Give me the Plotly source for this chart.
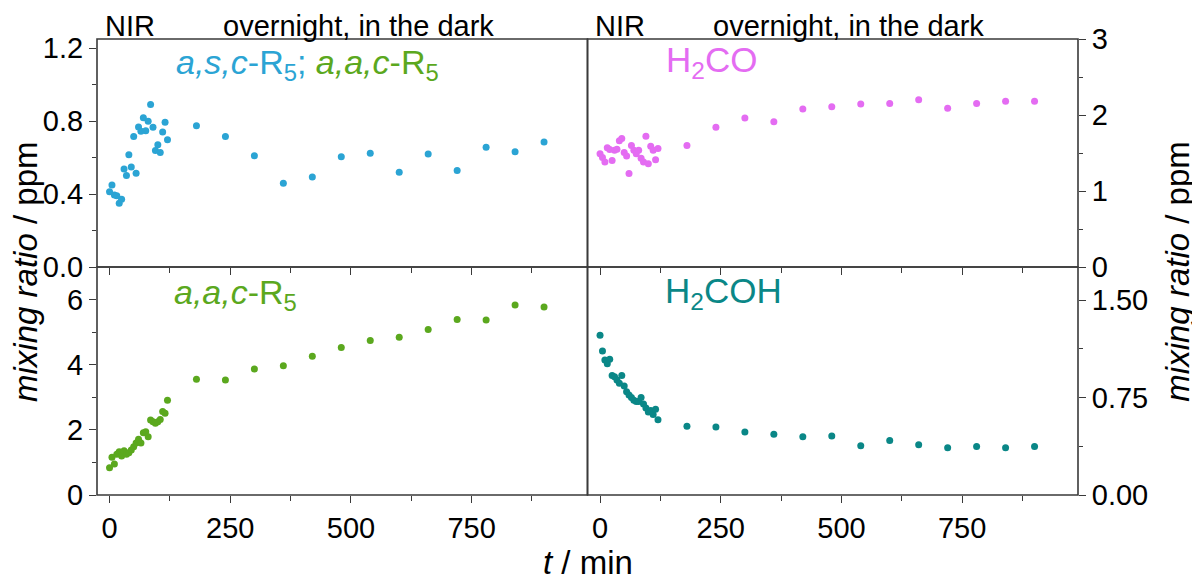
import plotly.graph_objects as go
from plotly.subplots import make_subplots

# sampling times (min): NIR phase every 5 min, then hourly overnight
t_min = [0, 5, 10, 15, 20, 25, 30, 35, 40, 45, 50, 55, 60, 65, 70, 75, 80, 85,
         90, 95, 100, 105, 110, 115, 120,
         180, 240, 300, 360, 420, 480, 540, 600, 660, 720, 780, 840, 900]

asc_r5 = [0.413, 0.450, 0.395, 0.390, 0.349, 0.371, 0.537, 0.501, 0.615, 0.548,
          0.716, 0.514, 0.768, 0.744, 0.818, 0.747, 0.799, 0.891, 0.766, 0.639,
          0.670, 0.628, 0.740, 0.793, 0.698,
          0.775, 0.716, 0.610, 0.459, 0.494, 0.604, 0.623, 0.520, 0.620, 0.529,
          0.656, 0.632, 0.685]

aac_r5 = [0.84, 1.16, 0.95, 1.25, 1.33, 1.20, 1.36, 1.25, 1.30, 1.38,
          1.48, 1.60, 1.71, 1.60, 1.91, 1.94, 1.79, 2.30, 2.25, 2.20,
          2.25, 2.32, 2.56, 2.51, 2.91,
          3.55, 3.53, 3.87, 3.97, 4.26, 4.53, 4.74, 4.84, 5.08, 5.39,
          5.37, 5.83, 5.77]

h2co = [1.49, 1.44, 1.38, 1.57, 1.545, 1.40, 1.535, 1.55, 1.66, 1.69,
        1.505, 1.46, 1.23, 1.60, 1.535, 1.49, 1.535, 1.43, 1.38, 1.72,
        1.36, 1.59, 1.535, 1.41, 1.56,
        1.60, 1.84, 1.96, 1.91, 2.08, 2.11, 2.145, 2.15, 2.20, 2.09,
        2.15, 2.18, 2.18]

h2coh = [1.23, 1.11, 1.04, 1.01, 1.046, 0.92, 0.91, 0.885, 0.86, 0.92,
         0.84, 0.795, 0.77, 0.75, 0.73, 0.72, 0.72, 0.75, 0.70, 0.67,
         0.64, 0.65, 0.62, 0.66, 0.58,
         0.53, 0.523, 0.485, 0.467, 0.449, 0.454, 0.379, 0.42, 0.387, 0.364,
         0.374, 0.364, 0.374]

# end of irradiation and reference levels
t_switch = 120
ref_level = {"asc": 0.8, "aac": 2.93, "h2co": 1.56, "h2coh": 0.58}

FONT = "Liberation Sans, Arial, Helvetica, sans-serif"
AXIS_COL = "#3a3a3a"
REF_COL = "#cccccc"

fig = make_subplots(rows=2, cols=2, horizontal_spacing=0, vertical_spacing=0)

panels = [
    (1, 1, asc_r5, "#2ba4d4", "asc"),
    (1, 2, h2co, "#e46cf2", "h2co"),
    (2, 1, aac_r5, "#5ba81e", "aac"),
    (2, 2, h2coh, "#0a8787", "h2coh"),
]

for row, col, vals, colour, key in panels:
    fig.add_vline(x=t_switch, line=dict(color=REF_COL, width=1.3), row=row, col=col)
    fig.add_hline(y=ref_level[key], line=dict(color=REF_COL, width=1.3), row=row, col=col)
    fig.add_trace(go.Scatter(x=t_min, y=vals, mode="markers",
                             marker=dict(color=colour, size=7, line=dict(width=0)),
                             showlegend=False), row=row, col=col)

# panel frames as shapes so shared edges are drawn once
for ax in ("", "2", "3", "4"):
    fig.add_shape(type="rect", xref="x%s domain" % ax, yref="y%s domain" % ax,
                  x0=0, x1=1, y0=0, y1=1, line=dict(color=AXIS_COL, width=1.6),
                  layer="above")

common = dict(showline=False, ticks="outside", tickcolor=AXIS_COL, ticklen=7,
              tickwidth=1.2, showgrid=False, zeroline=False,
              tickfont=dict(family=FONT, size=29, color="black"))

for row in (1, 2):
    for col in (1, 2):
        fig.update_xaxes(range=[-26, 990], tickvals=[0, 250, 500, 750],
                         minor=dict(tickvals=[125, 375, 625, 875], ticks="outside",
                                    ticklen=5, tickcolor=AXIS_COL),
                         showticklabels=(row == 2), row=row, col=col, **common)

fig.update_yaxes(range=[0, 1.25], tickvals=[0, 0.4, 0.8, 1.2], tickformat=".1f",
                 minor=dict(dtick=0.2, ticks="outside", ticklen=4, tickcolor=AXIS_COL),
                 row=1, col=1, **common)
fig.update_yaxes(range=[0, 7], tickvals=[0, 2, 4, 6],
                 minor=dict(dtick=1, ticks="outside", ticklen=4, tickcolor=AXIS_COL),
                 row=2, col=1, **common)
fig.update_yaxes(range=[0, 3], tickvals=[0, 1, 2, 3], side="right",
                 minor=dict(dtick=0.5, ticks="outside", ticklen=4, tickcolor=AXIS_COL),
                 row=1, col=2, **common)
fig.update_yaxes(range=[0, 1.756], tickvals=[0, 0.75, 1.5], tickformat=".2f", side="right",
                 minor=dict(dtick=0.375, ticks="outside", ticklen=4, tickcolor=AXIS_COL),
                 row=2, col=2, **common)

annotations = []
# headers above each column
for xr in ("x", "x2"):
    annotations.append(dict(text="NIR", x=42, xref=xr, y=1, yref="paper",
                            xanchor="center", yanchor="bottom", yshift=-5, showarrow=False,
                            font=dict(family=FONT, size=29, color="black")))
    annotations.append(dict(text="overnight, in the dark", x=515, xref=xr, y=1, yref="paper",
                            xanchor="center", yanchor="bottom", yshift=-5, showarrow=False,
                            font=dict(family=FONT, size=29, color="black")))

# species labels
annotations += [
    dict(text="<span style='color:#2ba4d4'><i>a,s,c</i>-R<sub>5</sub>;</span> "
              "<span style='color:#5ba81e'><i>a,a,c</i>-R<sub>5</sub></span>",
         x=133, xref="x", y=0.89, yref="y domain", xanchor="left", yanchor="middle",
         showarrow=False, font=dict(family=FONT, size=34)),
    dict(text="H<sub>2</sub>CO", x=133, xref="x2", y=0.9, yref="y2 domain",
         xanchor="left", yanchor="middle", showarrow=False,
         font=dict(family=FONT, size=35, color="#e46cf2")),
    dict(text="<i>a,a,c</i>-R<sub>5</sub>", x=130, xref="x3", y=0.88, yref="y3 domain",
         xanchor="left", yanchor="middle", showarrow=False,
         font=dict(family=FONT, size=34, color="#5ba81e")),
    dict(text="H<sub>2</sub>COH", x=130, xref="x4", y=0.885, yref="y4 domain",
         xanchor="left", yanchor="middle", showarrow=False,
         font=dict(family=FONT, size=35, color="#0a8787")),
]

# axis titles
annotations += [
    dict(text="<i>mixing ratio</i> / ppm", x=-0.073, y=0.49, xref="paper", yref="paper",
         xanchor="center", yanchor="middle", textangle=-90, showarrow=False,
         font=dict(family=FONT, size=33, color="black")),
    dict(text="<i>mixing ratio</i> / ppm", x=1.101, y=0.49, xref="paper", yref="paper",
         xanchor="center", yanchor="middle", textangle=-90, showarrow=False,
         font=dict(family=FONT, size=33, color="black")),
    dict(text="<i>t</i> / min", x=0.5, y=-0.148, xref="paper", yref="paper",
         xanchor="center", yanchor="middle", showarrow=False,
         font=dict(family=FONT, size=33, color="black")),
]

# page body adds 8 px offset, margins compensate
fig.update_layout(
    width=1200, height=582,
    margin=dict(l=89, r=130, t=31, b=95),
    plot_bgcolor="white", paper_bgcolor="white",
    showlegend=False,
    annotations=annotations,
)

fig.write_html("out.html")
